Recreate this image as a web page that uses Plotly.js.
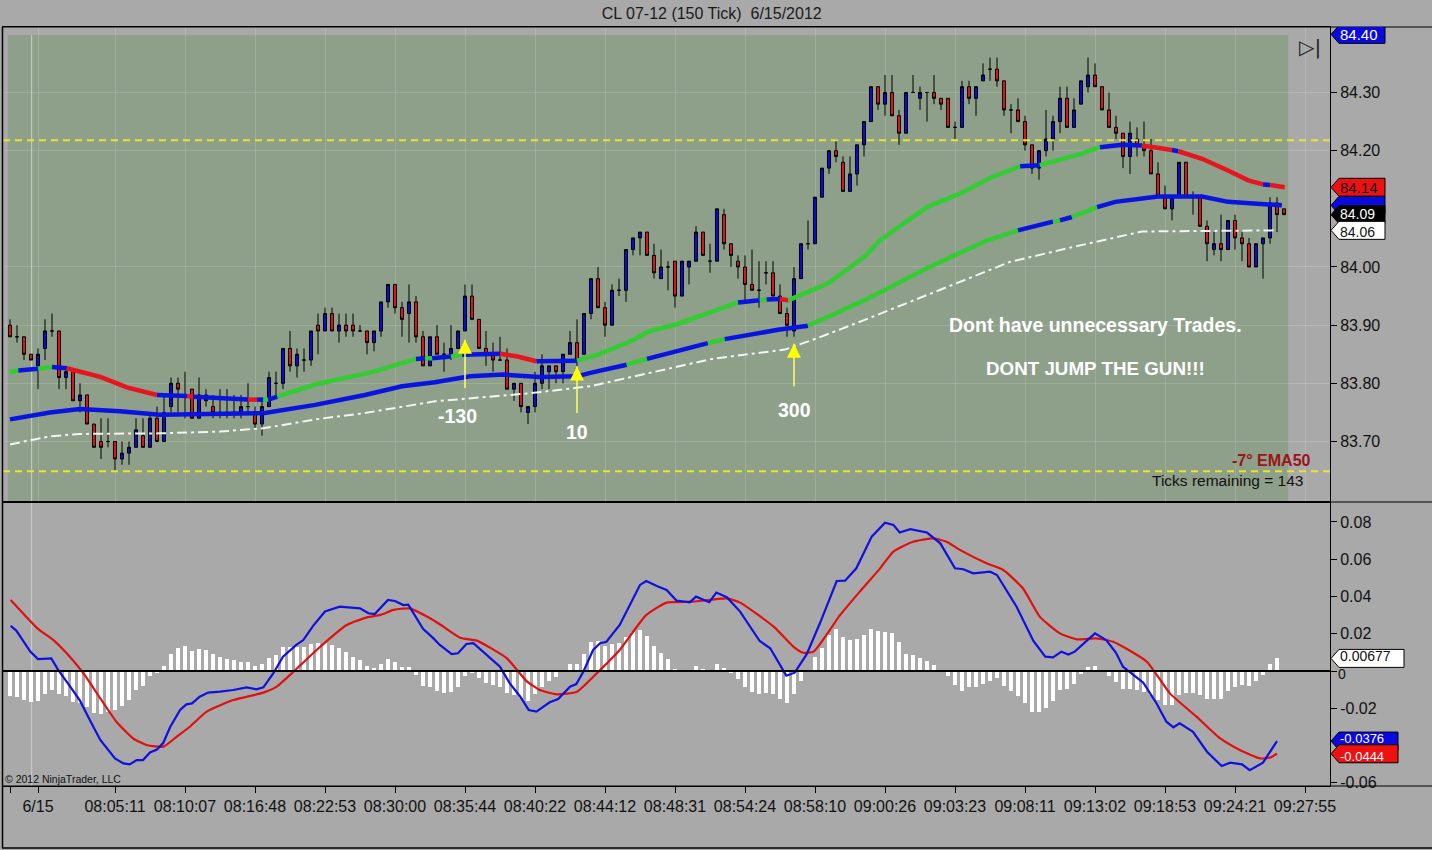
<!DOCTYPE html>
<html><head><meta charset="utf-8">
<script src="https://cdn.plot.ly/plotly-3.0.1.min.js"></script>
<style>html,body{margin:0;padding:0;background:#a9a9a9;}#chart{width:1432px;height:850px;}</style>
</head><body><div id="chart"></div>
<script>
// ---------- price bars (150 tick) ----------
const opens = [83.90,83.88,83.88,83.85,83.83,83.86,83.89,83.89,83.81,83.82,
83.77,83.78,83.73,83.70,83.70,83.70,83.67,83.68,83.69,83.71,
83.69,83.74,83.70,83.76,83.80,83.78,83.79,83.74,83.78,83.76,
83.75,83.75,83.75,83.75,83.76,83.75,83.73,83.76,83.80,83.80,
83.86,83.83,83.84,83.84,83.90,83.89,83.92,83.89,83.90,83.90,
83.89,83.89,83.87,83.89,83.94,83.97,83.93,83.92,83.94,83.88,
83.83,83.88,83.85,83.85,83.86,83.89,83.95,83.91,83.86,83.85,
83.84,83.84,83.79,83.80,83.75,83.76,83.80,83.82,83.83,83.82,
83.85,83.87,83.85,83.92,83.98,83.93,83.90,83.96,83.96,84.03,
84.05,84.06,84.02,83.98,84.00,84.01,83.95,84.00,84.01,84.06,
84.01,84.01,84.09,84.04,84.01,84.00,83.97,83.96,83.99,83.99,
83.95,83.92,83.89,83.98,84.04,84.04,84.12,84.17,84.20,84.18,
84.13,84.16,84.21,84.25,84.31,84.28,84.30,84.26,84.23,84.30,
84.29,84.30,84.30,84.29,84.29,84.24,84.24,84.31,84.29,84.32,
84.34,84.34,84.32,84.27,84.27,84.25,84.21,84.17,84.20,84.22,
84.25,84.29,84.24,84.28,84.31,84.33,84.31,84.27,84.24,84.23,
84.19,84.22,84.21,84.20,84.16,84.12,84.10,84.12,84.18,84.12,
84.12,84.07,84.03,84.04,84.03,84.08,84.05,84.04,84.00,84.04,
84.05,84.11,84.10];
const highs = [83.91,83.90,83.88,83.85,83.86,83.91,83.92,83.89,83.83,83.82,
83.80,83.78,83.73,83.74,83.74,83.70,83.70,83.70,83.74,83.74,
83.75,83.76,83.78,83.81,83.81,83.82,83.79,83.81,83.79,83.78,
83.79,83.79,83.78,83.78,83.80,83.76,83.77,83.82,83.82,83.86,
83.89,83.86,83.86,83.89,83.92,83.93,83.93,83.92,83.92,83.92,
83.90,83.89,83.89,83.94,83.97,83.97,83.94,83.97,83.95,83.89,
83.88,83.90,83.87,83.90,83.89,83.97,83.97,83.91,83.89,83.87,
83.88,83.86,83.80,83.80,83.76,83.82,83.85,83.83,83.83,83.85,
83.89,83.91,83.92,83.98,84.00,83.94,83.97,83.98,84.03,84.05,
84.06,84.06,84.04,84.03,84.01,84.01,84.01,84.01,84.07,84.06,
84.04,84.10,84.10,84.04,84.02,84.02,84.03,84.01,84.01,84.01,
83.97,83.93,84.00,84.04,84.08,84.12,84.17,84.20,84.22,84.19,
84.19,84.21,84.25,84.31,84.31,84.33,84.33,84.27,84.30,84.33,
84.31,84.30,84.33,84.29,84.29,84.25,84.32,84.32,84.31,84.35,
84.36,84.36,84.32,84.28,84.29,84.26,84.21,84.20,84.27,84.26,
84.31,84.31,84.29,84.32,84.36,84.35,84.31,84.30,84.26,84.23,
84.25,84.24,84.25,84.22,84.18,84.14,84.12,84.18,84.18,84.13,
84.12,84.08,84.06,84.09,84.08,84.09,84.06,84.05,84.04,84.05,
84.12,84.12,84.10];
const lows = [83.88,83.87,83.84,83.84,83.79,83.84,83.88,83.79,83.79,83.77,
83.75,83.73,83.69,83.67,83.69,83.65,83.66,83.66,83.69,83.69,
83.69,83.70,83.70,83.75,83.75,83.74,83.74,83.74,83.76,83.74,
83.74,83.74,83.74,83.74,83.75,83.72,83.71,83.76,83.78,83.79,
83.82,83.81,83.82,83.83,83.85,83.89,83.89,83.87,83.88,83.88,
83.89,83.85,83.855,83.88,83.93,83.92,83.88,83.87,83.87,83.83,
83.83,83.85,83.82,83.84,83.86,83.89,83.91,83.86,83.83,83.82,
83.84,83.79,83.77,83.75,83.73,83.75,83.79,83.79,83.80,83.80,
83.85,83.83,83.85,83.91,83.93,83.88,83.90,83.95,83.94,84.02,
84.02,84.02,83.98,83.98,83.96,83.93,83.95,83.97,84.01,84.02,
83.99,84.01,84.03,84.00,83.98,83.94,83.96,83.93,83.97,83.95,
83.92,83.88,83.88,83.98,84.03,84.04,84.12,84.16,84.18,84.13,
84.13,84.14,84.19,84.25,84.27,84.26,84.26,84.21,84.23,84.30,
84.27,84.25,84.28,84.27,84.24,84.22,84.24,84.28,84.26,84.32,
84.32,84.31,84.26,84.23,84.25,84.20,84.16,84.15,84.19,84.20,
84.23,84.24,84.24,84.28,84.30,84.31,84.27,84.24,84.22,84.17,
84.16,84.19,84.19,84.16,84.12,84.10,84.08,84.12,84.12,84.09,
84.07,84.01,84.02,84.01,84.03,84.03,84.01,84.00,84.00,83.98,
84.04,84.06,84.09];
const closes = [83.88,83.88,83.85,83.84,83.85,83.89,83.89,83.81,83.82,83.77,
83.78,83.73,83.69,83.69,83.70,83.67,83.68,83.69,83.72,83.69,
83.74,83.70,83.75,83.80,83.79,83.78,83.74,83.78,83.77,83.75,
83.75,83.75,83.75,83.76,83.76,83.73,83.76,83.81,83.80,83.86,
83.83,83.85,83.84,83.89,83.89,83.92,83.89,83.90,83.89,83.89,
83.89,83.87,83.89,83.94,83.97,83.93,83.91,83.94,83.88,83.83,
83.88,83.85,83.85,83.86,83.89,83.95,83.91,83.86,83.85,83.84,
83.84,83.79,83.80,83.76,83.76,83.80,83.83,83.83,83.82,83.85,
83.87,83.84,83.92,83.98,83.93,83.90,83.96,83.96,84.03,84.05,
84.06,84.02,83.99,84.00,84.00,83.95,84.01,84.01,84.06,84.02,
84.01,84.10,84.04,84.02,84.00,83.97,83.96,83.96,83.99,83.95,
83.92,83.90,83.98,84.04,84.04,84.12,84.17,84.20,84.19,84.13,
84.16,84.21,84.25,84.31,84.28,84.30,84.26,84.23,84.30,84.30,
84.30,84.30,84.29,84.28,84.24,84.24,84.31,84.29,84.31,84.33,
84.34,84.32,84.27,84.27,84.25,84.21,84.17,84.20,84.22,84.25,
84.29,84.24,84.27,84.32,84.33,84.31,84.27,84.24,84.23,84.19,
84.23,84.21,84.20,84.16,84.12,84.10,84.12,84.18,84.12,84.12,
84.07,84.04,84.04,84.03,84.08,84.05,84.04,84.00,84.04,84.05,
84.11,84.09,84.09];

// ---------- moving averages (bar position, value, segment colour) ----------
const emaAX = [0,1.2,4,6,8.1,12.9,16.7,21,25.3,26.2,30,34,35.3,36.2,36.9,38.2,43.6,52,55,58,59.3,60.3,63,64.6,70,72.5,75.2,81,83.9,88.6,91.4,95.4,100.3,104,107.1,108.1,110,111.2,116.9,122.1,124.3,131,135.7,140.4,144.3,147.1,152.9,155.7,158.9,161.7,166,166.9,170.3,174,176.9,179,180,182.1];
const emaAY = [83.819,83.822,83.825,83.828,83.826,83.811,83.793,83.780,83.778,83.777,83.774,83.772,83.772,83.772,83.772,83.777,83.798,83.820,83.832,83.842,83.843,83.843,83.846,83.849,83.851,83.846,83.838,83.839,83.849,83.872,83.890,83.902,83.923,83.939,83.943,83.944,83.945,83.943,83.972,84.018,84.046,84.103,84.126,84.155,84.173,84.175,84.194,84.206,84.210,84.209,84.201,84.199,84.186,84.166,84.149,84.142,84.141,84.137];
const emaAC = ['g','b','g','b','r','r','r','b','r','b','b','r','b','g','b','g','g','g','g','b','g','b','g','b','r','r','b','g','g','g','g','g','g','b','g','b','r','g','g','g','g','g','g','g','b','g','g','b','b','r','b','r','r','r','r','b','r',''];

const emaBX = [0,5.7,10,15.7,21.4,30,36.4,43.6,50.7,56,60.7,65.7,70.5,75.7,81,82.9,88.1,91,99.7,102.1,109.7,114,122.1,131,139.6,144,149,150,151.7,155.3,157.9,164,170.3,174,181.7];
const emaBY = [83.738,83.750,83.756,83.752,83.746,83.747,83.749,83.763,83.780,83.795,83.802,83.812,83.815,83.811,83.812,83.818,83.832,83.842,83.869,83.876,83.892,83.899,83.943,83.998,84.046,84.063,84.078,84.080,84.086,84.103,84.112,84.121,84.121,84.112,84.106];
const emaBC = ['b','b','b','b','b','b','b','b','b','b','b','b','b','b','b','b','g','b','g','b','b','g','g','g','g','b','g','b','g','b','b','b','b','b',''];

const emaCX = [0,5.7,10,21.4,30,36.4,43.6,50.7,60.7,74.3,82.9,91.4,100.3,110.7,115.4,122.1,132.9,142.9,152.1,161.7,180.7];
const emaCY = [83.695,83.709,83.713,83.714,83.717,83.723,83.738,83.749,83.769,83.783,83.795,83.818,83.842,83.858,83.878,83.909,83.961,84.009,84.035,84.061,84.063];

// ---------- MACD panel ----------
const histVals = [-0.0132,-0.0138,-0.0156,-0.0165,-0.016,-0.0125,-0.0102,-0.0125,-0.0132,-0.0165,
-0.017,-0.0191,-0.0224,-0.0231,-0.0218,-0.0209,-0.0186,-0.0156,-0.0102,-0.0079,
-0.0025,-0.0013,0.0027,0.0091,0.0125,0.0134,0.0107,0.0118,0.0113,0.0091,
0.0077,0.0064,0.0059,0.005,0.0047,0.0029,0.0038,0.0072,0.0086,0.0127,
0.0127,0.0131,0.0127,0.0145,0.0149,0.0152,0.014,0.0125,0.01,0.0077,
0.0059,0.0027,0.0018,0.0038,0.0064,0.0048,0.0023,0.0023,-0.0021,-0.0079,
-0.0084,-0.0107,-0.0116,-0.0111,-0.0084,-0.0025,-0.0013,-0.0039,-0.0063,-0.0075,
-0.0088,-0.012,-0.0129,-0.0147,-0.016,-0.0125,-0.0084,-0.0054,-0.003,0.0003,
0.0038,0.0036,0.0091,0.0154,0.0161,0.0136,0.0145,0.0149,0.0183,0.0208,
0.022,0.0188,0.0134,0.0095,0.0064,0.0009,0.0005,0.0003,0.0027,0.0009,
0.0005,0.0038,0.0016,-0.0009,-0.0041,-0.0084,-0.0111,-0.0125,-0.0116,-0.0125,
-0.015,-0.017,-0.0125,-0.0052,-0.0005,0.0077,0.0125,0.0193,0.0226,0.0184,
0.0166,0.0172,0.0193,0.0226,0.0217,0.0208,0.0202,0.0156,0.0091,0.0084,
0.0068,0.0054,0.0032,0.0005,-0.0025,-0.0075,-0.0106,-0.0084,-0.0084,-0.0072,
-0.0052,-0.0039,-0.0079,-0.0106,-0.0132,-0.017,-0.0218,-0.0218,-0.02,-0.0161,
-0.0102,-0.0098,-0.007,-0.0016,0.002,0.0027,-0.0002,-0.0027,-0.0061,-0.0098,
-0.0098,-0.0102,-0.0111,-0.0129,-0.0156,-0.0183,-0.0183,-0.0129,-0.012,-0.0116,
-0.0129,-0.0152,-0.0152,-0.0152,-0.0107,-0.0084,-0.0075,-0.0079,-0.0054,-0.0021,
0.0038,0.00677];

const macdX = [0.1,0.9,2.9,4,5.9,6.9,8.6,10,11.4,12.9,15,16.2,17.1,18.1,19,20,21,21.9,22.9,24.3,25.2,26,27.1,28.3,30,31.9,33.8,35.2,36.2,37.6,39,40.9,41.9,43.3,45,47.1,50,51.2,52.1,54,55,56.2,56.9,59,60.5,61.4,63.1,64,65.2,66.2,70,71.4,72.9,74.1,75.2,77.1,78.3,80,80.9,81.9,83.3,84.3,85.2,87.1,90,90.9,92.4,93.8,95.2,97.1,98,99.9,100.9,102.4,104.3,107.1,108.6,110.9,112.1,113.8,115.7,118.1,119.3,120.9,123.1,125,126.2,127.1,128.6,131,132.9,135,136.2,137.6,140,141,143.8,146.2,147.9,149,150.2,151.2,152.1,155,156.6,158,159,161.9,163.8,165.2,166.2,167.1,169,171,173.1,174.3,176,177.1,179,181];
const macdY = [0.0242,0.0217,0.0104,0.0064,0.0068,0.0005,-0.0084,-0.0159,-0.0263,-0.037,-0.0469,-0.0496,-0.0501,-0.0478,-0.0478,-0.0437,-0.0421,-0.0385,-0.0299,-0.0209,-0.0179,-0.0174,-0.0138,-0.0116,-0.0111,-0.0102,-0.0088,-0.0098,-0.0088,-0.0013,0.0077,0.014,0.0166,0.0242,0.0319,0.0345,0.0336,0.031,0.0306,0.0381,0.0376,0.0354,0.0356,0.0226,0.0175,0.014,0.0091,0.0095,0.0145,0.0149,0.0023,-0.0066,-0.0138,-0.0209,-0.0218,-0.0168,-0.015,-0.0084,-0.007,-0.0004,0.0113,0.0149,0.0157,0.0247,0.0462,0.0483,0.0456,0.0435,0.0378,0.0369,0.0399,0.0369,0.0421,0.0396,0.0319,0.0161,0.0122,-0.0025,-0.0009,0.0089,0.0256,0.0483,0.0485,0.0551,0.0721,0.0796,0.0784,0.0743,0.0761,0.0743,0.0685,0.0551,0.0546,0.0524,0.0533,0.0515,0.0345,0.0161,0.0077,0.0073,0.0104,0.0089,0.0104,0.0202,0.0166,0.0098,0.0023,-0.0063,-0.0174,-0.0272,-0.0302,-0.0281,-0.0326,-0.0433,-0.051,-0.0492,-0.0501,-0.0532,-0.0492,-0.0376];

const sigX = [0.1,4,6.2,8.1,10.5,12.9,15.2,17.6,19.5,21.9,23.8,25.7,28.1,31.9,36.2,38.1,40.5,43.8,48.1,51,52.9,54.8,57.1,60,61.4,64.3,66.7,69,71,73.8,75.7,78.1,81,83.8,87.1,90.9,93.8,97.6,102.4,104.3,109.1,111.9,113.3,114.8,118.6,121.4,124.3,126.2,129,131.9,133.8,135.7,139.5,141.9,144.7,147.1,150,152.4,155.2,157.6,162.4,165.7,169.5,172.9,175.7,178.6,180,181];
const sigY = [0.0381,0.0226,0.0166,0.0095,-0.0013,-0.0147,-0.0272,-0.0362,-0.0397,-0.0406,-0.0353,-0.0299,-0.0218,-0.0156,-0.0116,-0.0084,-0.0004,0.0113,0.0247,0.0288,0.0301,0.0328,0.0336,0.0283,0.0251,0.0179,0.0163,0.0116,0.0068,-0.0054,-0.0102,-0.0125,-0.0111,-0.0013,0.0113,0.0301,0.0367,0.0372,0.039,0.0367,0.0238,0.0131,0.0098,0.0104,0.0301,0.0426,0.0551,0.0641,0.0694,0.0712,0.0694,0.065,0.0578,0.0542,0.0444,0.0292,0.0202,0.017,0.0175,0.0157,0.005,-0.012,-0.0245,-0.0362,-0.0424,-0.0469,-0.0465,-0.0444];

// ---------- axes labels (values hidden behind the price flags carry no label) ----------
const timeTickBars = [4,15,25,35,45,55,65,75,85,95,105,115,125,135,145,155,165,175,185];
const timeTickText = ['6/15','08:05:11','08:10:07','08:16:48','08:22:53','08:30:00','08:35:44','08:40:22','08:44:12','08:48:31','08:54:24','08:58:10','09:00:26','09:03:23','09:08:11','09:13:02','09:18:53','09:24:21','09:27:55'];
const priceTicks = [83.7,83.8,83.9,84.0,84.2,84.3];
const priceTickText = ['83.70','83.80','83.90','84.00','84.20','84.30'];
const macdTicks = [-0.06,-0.02,0,0.02,0.04,0.06,0.08];
const macdTickText = ['-0.06','-0.02','','0.02','0.04','0.06','0.08'];
const macdZeroLabel = '0';

// ---------- trade marks & levels ----------
const tradeBars = [65,81,112];
const tradeTip = [83.875,83.829,83.868];
const tradeTail = [83.792,83.749,83.795];
const tradeLabels = ['-130','10','300'];
const tradeLabelBars = [63.9,81,112.1];
const tradeLabelPrice = [83.744,83.716,83.754];
const levelLines = [84.218,83.649];
const sessionBreakBar = 3.1;

// ================= build =================
const FONT = 'Liberation Sans, Arial, sans-serif';
const barIdx = opens.map((_, i) => i);
const histIdx = histVals.map((_, i) => i);
const COLORS = {g:'#33cc33', b:'#0a14e0', r:'#e8141e'};

function segTraces(xs, ys, cs, width) {
  const out = [];
  let k = 0;
  while (k < xs.length - 1) {
    let j = k;
    while (j < xs.length - 1 && cs[j] === cs[k]) j++;
    out.push({type:'scatter', mode:'lines', x: xs.slice(k, j + 1), y: ys.slice(k, j + 1),
      xaxis:'x2', yaxis:'y2', line:{color: COLORS[cs[k]], width: width}, hoverinfo:'skip', showlegend:false});
    k = j;
  }
  return out;
}

const traces = [];
traces.push({type:'candlestick', x: barIdx, open: opens, high: highs, low: lows, close: closes,
  xaxis:'x2', yaxis:'y2', whiskerwidth:0,
  increasing:{line:{color:'#000000', width:1}, fillcolor:'#0a0ad2'},
  decreasing:{line:{color:'#000000', width:1}, fillcolor:'#dc1414'},
  hoverinfo:'skip', showlegend:false});
traces.push({type:'scatter', mode:'lines', x: emaCX, y: emaCY, xaxis:'x2', yaxis:'y2',
  line:{color:'#f4f4f4', width:2, dash:'10px,4px,3px,4px'}, hoverinfo:'skip', showlegend:false});
segTraces(emaBX, emaBY, emaBC, 4.5).forEach(t => traces.push(t));
segTraces(emaAX, emaAY, emaAC, 4.5).forEach(t => traces.push(t));

traces.push({type:'bar', x: histIdx, y: histVals, xaxis:'x', yaxis:'y', width:0.7,
  marker:{color:'#ffffff', line:{width:0}}, hoverinfo:'skip', showlegend:false});
traces.push({type:'scatter', mode:'lines', x: sigX, y: sigY, xaxis:'x', yaxis:'y',
  line:{color:'#e01010', width:2.2, shape:'spline', smoothing:0.5}, hoverinfo:'skip', showlegend:false});
traces.push({type:'scatter', mode:'lines', x: macdX, y: macdY, xaxis:'x', yaxis:'y',
  line:{color:'#1010e0', width:2.2}, hoverinfo:'skip', showlegend:false});

// shapes
const shapes = [];
const PX = px => (px - 3) / 1327;          // paper x from pixel
const PY = py => (786 - py) / 759;         // paper y from pixel
shapes.push({type:'rect', xref:'x2', yref:'paper', x0:-0.3, x1:182.6, y0:PY(502), y1:PY(35),
  fillcolor:'#8e9f8a', line:{width:0}, layer:'below'});
shapes.push({type:'line', xref:'x2', yref:'paper', x0:sessionBreakBar, x1:sessionBreakBar, y0:PY(502), y1:PY(35),
  line:{color:'rgba(255,255,255,0.55)', width:1}, layer:'below'});
shapes.push({type:'line', xref:'x', yref:'paper', x0:sessionBreakBar, x1:sessionBreakBar, y0:0, y1:PY(502),
  line:{color:'rgba(255,255,255,0.45)', width:1}, layer:'below'});
levelLines.forEach(v => shapes.push({type:'line', xref:'paper', yref:'y2', x0:0, x1:1, y0:v, y1:v,
  line:{color:'#e6e62a', width:2, dash:'7px,5px'}, layer:'above'}));
shapes.push({type:'line', xref:'paper', yref:'y', x0:0, x1:1, y0:0, y1:0, line:{color:'#000', width:2}, layer:'above'});
[27, 502, 786].forEach(py => shapes.push({type:'line', xref:'paper', yref:'paper', x0:0, x1:PX(1432), y0:PY(py), y1:PY(py),
  line:{color:'#000', width:1.2}}));
shapes.push({type:'line', xref:'paper', yref:'paper', x0:PX(2.5), x1:PX(2.5), y0:PY(848), y1:PY(27), line:{color:'#000', width:1.5}});
shapes.push({type:'line', xref:'paper', yref:'paper', x0:PX(2), x1:PX(1432), y0:PY(848), y1:PY(848), line:{color:'#000', width:1.5}});
tradeBars.forEach((b, i) => {
  shapes.push({type:'line', xref:'x2', yref:'y2', x0:b, x1:b, y0:tradeTail[i], y1:tradeTip[i],
    line:{color:'#ffff66', width:1.5}, layer:'above'});
  shapes.push({type:'path', xref:'x2', yref:'y2', xsizemode:'pixel', ysizemode:'pixel', xanchor:b, yanchor:tradeTip[i],
    path:'M0,0 L-7,-14 L7,-14 Z', fillcolor:'#ffff00', line:{width:0}, layer:'above'});
});

// price flags
const annotations = [];
function flag(yref, value, text, bg, fg, w, showText, fsize, yshift) {
  shapes.push({type:'path', xref:'paper', yref: yref, xsizemode:'pixel', ysizemode:'pixel', xanchor:1, yanchor:value,
    path:'M1,0 L9,9 L' + w + ',9 L' + w + ',-9 L9,-9 Z', fillcolor:bg, line:{color:'#000', width:1}, layer:'above'});
  if (showText) annotations.push({xref:'paper', yref: yref, x:1, y:value, xanchor:'left', yanchor:'middle', xshift:9,
    yshift: yshift, text:text, showarrow:false, font:{family:FONT, size:fsize, color:fg}, borderpad:0});
}
// zero label of the MACD scale, partly tucked under the histogram flag
annotations.push({xref:'paper', yref:'y', x:1, y:0, xanchor:'left', yanchor:'middle', xshift:7, yshift:-3,
  text:macdZeroLabel, showarrow:false, font:{family:FONT, size:14, color:'#111111'}, borderpad:0});
flag('y2', 84.40, '84.40', '#0a0ae0', '#ffffff', 55, true, 15, 0);
flag('y2', emaAY[emaAY.length - 1], emaAY[emaAY.length - 1].toFixed(2), '#ee1111', '#111111', 55, true, 15, 0);
flag('y2', emaBY[emaBY.length - 1], emaBY[emaBY.length - 1].toFixed(2), '#0a0ae0', '#ffffff', 55, false, 15, 0);
flag('y2', closes[closes.length - 1], closes[closes.length - 1].toFixed(2), '#000000', '#ffffff', 55, true, 14, 1);
flag('y2', emaCY[emaCY.length - 1], emaCY[emaCY.length - 1].toFixed(2), '#ffffff', '#111111', 55, true, 14, -1.5);
flag('y', histVals[histVals.length - 1], histVals[histVals.length - 1].toFixed(5), '#ffffff', '#111111', 74, true, 14, 2);
flag('y', macdY[macdY.length - 1], macdY[macdY.length - 1].toFixed(4), '#0a0ae0', '#ffffff', 68, true, 13, 2.5);
flag('y', sigY[sigY.length - 1], sigY[sigY.length - 1].toFixed(4), '#ee1111', '#ffffff', 68, true, 13, -2.5);

tradeLabels.forEach((t, i) => annotations.push({xref:'x2', yref:'y2', x:tradeLabelBars[i], y:tradeLabelPrice[i],
  text:'<b>' + t + '</b>', showarrow:false, font:{family:FONT, size:19.5, color:'#ffffff'}}));
annotations.push({xref:'x2', yref:'y2', x:155, y:83.90, text:'<b>Dont have unnecessary Trades.</b>', showarrow:false,
  font:{family:FONT, size:19.5, color:'#ffffff'}});
annotations.push({xref:'x2', yref:'y2', x:155, y:83.825, text:'<b>DONT JUMP THE GUN!!!</b>', showarrow:false,
  font:{family:FONT, size:18.8, color:'#ffffff'}});
annotations.push({xref:'paper', yref:'paper', x:PX(1313), y:PY(461), xanchor:'right', yanchor:'middle',
  text:'<b>-7° EMA50</b>', showarrow:false, font:{family:FONT, size:16, color:'#9c1418'}});
annotations.push({xref:'paper', yref:'paper', x:PX(1305), y:PY(481), xanchor:'right', yanchor:'middle',
  text:'Ticks remaining = 143', showarrow:false, font:{family:FONT, size:15.5, color:'#111111'}});
annotations.push({xref:'paper', yref:'paper', x:PX(3), y:PY(779), xanchor:'left', yanchor:'middle',
  text:'© 2012 NinjaTrader, LLC', showarrow:false, font:{family:FONT, size:10.5, color:'#111111'}});
annotations.push({xref:'paper', yref:'paper', x:PX(1310), y:PY(47), xanchor:'center', yanchor:'middle',
  text:'▷|', showarrow:false, font:{family:'DejaVu Sans', size:20, color:'#222222'}});

const axisFont = {family:FONT, size:16, color:'#111111'};
const layout = {
  width:1432, height:850,
  margin:{l:3, r:102, t:27, b:64, pad:0},
  paper_bgcolor:'#a9a9a9', plot_bgcolor:'#a9a9a9',
  showlegend:false, boxgap:0.38, bargap:0,
  title:{text:'CL 07-12 (150 Tick)  6/15/2012', x:0.497, xanchor:'center', xref:'container',
    y:1 - 13/850, yanchor:'middle', yref:'container', font:{family:FONT, size:16, color:'#1a1a1a'}},
  xaxis:{domain:[0,1], range:[-1,188.571], anchor:'y', tickmode:'array', tickvals:[0].concat(timeTickBars),
    ticktext:[''].concat(timeTickText), ticks:'outside', ticklen:6, tickcolor:'#000', showline:true, mirror:true,
    linecolor:'#000', linewidth:1, showgrid:false, zeroline:false, tickfont:axisFont, fixedrange:true, tickangle:0},
  xaxis2:{domain:[0,1], range:[-1,188.571], anchor:'y2', tickmode:'array', tickvals:timeTickBars, showticklabels:false,
    ticks:'', showline:true, mirror:true, linecolor:'#000', linewidth:1, showgrid:true,
    gridcolor:'rgba(255,255,255,0.14)', gridwidth:1, zeroline:false, rangeslider:{visible:false}, fixedrange:true},
  yaxis:{domain:[0,0.3742], range:[-0.0617,0.0907], side:'right', anchor:'x', tickmode:'array', tickvals:macdTicks,
    ticktext:macdTickText, ticks:'outside', ticklen:6, tickcolor:'#000', showline:true, mirror:true, linecolor:'#000',
    linewidth:1, showgrid:false, zeroline:false, tickfont:axisFont, fixedrange:true},
  yaxis2:{domain:[0.3742,1], range:[83.596,84.4126], side:'right', anchor:'x2', tickmode:'array', tickvals:priceTicks,
    ticktext:priceTickText, ticks:'outside', ticklen:6, tickcolor:'#000', showline:true, mirror:true,
    linecolor:'#000', linewidth:1, showgrid:true, gridcolor:'rgba(255,255,255,0.14)', zeroline:false, tickfont:axisFont,
    fixedrange:true},
  shapes: shapes,
  annotations: annotations
};

Plotly.newPlot('chart', traces, layout, {staticPlot:true, displayModeBar:false});
</script>
</body></html>
